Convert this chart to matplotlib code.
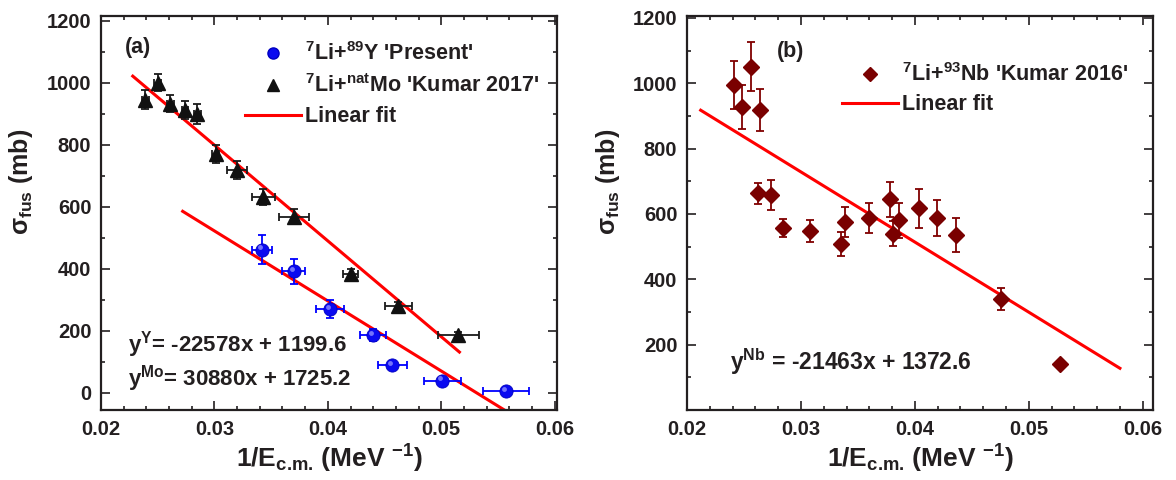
import matplotlib
matplotlib.use('Agg')
import matplotlib.pyplot as plt
import matplotlib.transforms as mtransforms
from matplotlib.ticker import MultipleLocator
import numpy as np

plt.rcParams['font.family'] = ['Liberation Sans', 'DejaVu Sans']
plt.rcParams['font.weight'] = 'bold'
plt.rcParams['mathtext.fontset'] = 'custom'
plt.rcParams['mathtext.rm'] = 'Liberation Sans:bold'
plt.rcParams['mathtext.bf'] = 'Liberation Sans:bold'
plt.rcParams['mathtext.it'] = 'Liberation Sans:bold:italic'
plt.rcParams['mathtext.default'] = 'regular'
plt.rcParams['text.color'] = '#231f20'
plt.rcParams['axes.labelcolor'] = '#231f20'

# panel (a): 7Li+89Y (present)
y_x = [0.0342, 0.0370, 0.0402, 0.0440, 0.0457, 0.0501, 0.0557]
y_sig = [462, 392, 270, 186, 90, 40, 6]
y_xerr = [0.0009, 0.0010, 0.00125, 0.00115, 0.00125, 0.0016, 0.0020]
y_yerr = [47, 40, 30, 20, 10, 8, 5]

# panel (a): 7Li+natMo (Kumar 2017)
mo_x = [0.0239, 0.0250, 0.0261, 0.0274, 0.0285, 0.0301, 0.0320, 0.0343,
        0.0370, 0.0420, 0.0462, 0.0515]
mo_sig = [945, 1000, 932, 912, 898, 770, 718, 631, 568, 385, 280, 188]
mo_xerr = [0.0003, 0.0003, 0.0003, 0.0003, 0.0003, 0.0003, 0.0009, 0.0010,
           0.0013, 0.0007, 0.0012, 0.0018]
mo_yerr = [31, 28, 28, 30, 32, 30, 30, 26, 25, 15, 12, 10]

# panel (b): 7Li+93Nb (Kumar 2016)
nb_x = [0.0241, 0.0248, 0.0256, 0.0264, 0.0262, 0.0274, 0.0284, 0.0308,
        0.0335, 0.0339, 0.0360, 0.0378, 0.0381, 0.0386, 0.0404, 0.0419,
        0.0436, 0.0476, 0.0527]
nb_sig = [994, 928, 1050, 918, 663, 658, 557, 548, 508, 576, 588, 645,
          540, 581, 617, 588, 535, 339, 142]
nb_yerr = [74, 67, 75, 65, 31, 47, 27, 35, 36, 46, 46, 54, 38, 53, 60, 56,
           52, 34, 8]

# linear fits (slope, intercept, x range)
fit_y = (-22578, 1199.6, 0.0272, 0.0558)
fit_mo = (-30880, 1725.2, 0.0228, 0.0516)
fit_nb = (-21463, 1372.6, 0.0212, 0.0580)

x_ticks = [0.02, 0.03, 0.04, 0.05, 0.06]
x_ticklabels = ['0.02', '0.03', '0.04', '0.05', '0.06']
ya_ticks = [0, 200, 400, 600, 800, 1000, 1200]
yb_ticks = [200, 400, 600, 800, 1000, 1200]

fig = plt.figure(figsize=(11.76, 4.8), dpi=100)
ax1 = fig.add_axes([0.0859, 0.1458, 0.3877, 0.8209])
ax2 = fig.add_axes([0.5842, 0.1458, 0.3962, 0.8209])

dark = '#231f20'


def style_axis(ax, ylim, xlim, yticks, ylab_x):
    ax.set_xlim(*xlim)
    ax.set_ylim(*ylim)
    ax.set_xticks(x_ticks)
    ax.set_xticklabels(x_ticklabels)
    ax.set_yticks(yticks)
    ax.xaxis.set_minor_locator(MultipleLocator(0.002))
    ax.yaxis.set_minor_locator(MultipleLocator(100))
    ax.tick_params(which='both', direction='in', top=True, right=True,
                   color=dark, labelcolor=dark, labelsize=14.5)
    ax.tick_params(which='major', length=6.5, width=1.2, pad=7)
    ax.tick_params(which='minor', length=3, width=1.2)
    for s in ax.spines.values():
        s.set_linewidth(1.6)
        s.set_color(dark)
    ax.set_xlabel(r'1/E$_{\text{c.m.}}$ (MeV $^{-1}$)', fontsize=19,
                  fontweight='bold', labelpad=3)
    ax.set_ylabel(r'$\sigma_{fus}$ (mb)', fontsize=18, fontweight='bold')
    ax.yaxis.set_label_coords(ylab_x, 0.58)


def fit_line(ax, fit, label):
    k, b, x0, x1 = fit
    xs = np.array([x0, x1])
    ax.plot(xs, k * xs + b, color='#ff0000', lw=2.2, label=label, zorder=2)


# ---- panel (a)
style_axis(ax1, (-55, 1215), (0.02, 0.0602), ya_ticks, -0.145)
fit_line(ax1, fit_mo, 'Linear fit')
fit_line(ax1, fit_y, None)

ax1.errorbar(mo_x, mo_sig, xerr=mo_xerr, yerr=mo_yerr, fmt='none',
             ecolor='#1a1a1a', elinewidth=1.3, capsize=3, capthick=1.3, zorder=3)
ax1.plot(mo_x, mo_sig, '^', color='#111111', ms=9.5, zorder=4)
ax1.errorbar(y_x, y_sig, xerr=y_xerr, yerr=y_yerr, fmt='none',
             ecolor='#0000ff', elinewidth=1.3, capsize=3, capthick=1.3, zorder=3)
ax1.plot(y_x, y_sig, 'o', color='#0a0af0', mec='#0000c0', mew=0.6, ms=9.5, zorder=4)
# little highlight to give the spheres their shine
shine = mtransforms.offset_copy(ax1.transData, fig=fig, x=-1.6, y=1.6, units='points')
ax1.plot(y_x, y_sig, 'o', color='#8f8fff', ms=3.5, mew=0, alpha=0.8,
         transform=shine, zorder=5)

h_y, = ax1.plot([], [], 'o', color='#0a0af0', mec='#0000c0', ms=8)
h_mo, = ax1.plot([], [], '^', color='#111111', ms=8)
h_fit = ax1.lines[0]
ax1.legend([h_y, h_mo, h_fit],
           [r"$^{7}$Li+$^{89}$Y 'Present'", r"$^{7}$Li+$^{nat}$Mo 'Kumar 2017'",
            'Linear fit'],
           loc='upper left', bbox_to_anchor=(0.315, 0.933), frameon=False,
           prop={'weight': 'bold', 'size': 15.5}, handlelength=2.6,
           handletextpad=0.2, labelspacing=0.42, borderpad=0, borderaxespad=0)

ax1.text(0.053, 0.919, '(a)', transform=ax1.transAxes, fontsize=15.5,
         va='center', ha='left')
ax1.text(0.059, 0.165, r'y$^{Y}$= -22578x + 1199.6', transform=ax1.transAxes,
         fontsize=16, va='center', ha='left')
ax1.text(0.059, 0.081, r'y$^{Mo}$= 30880x + 1725.2', transform=ax1.transAxes,
         fontsize=16, va='center', ha='left')

# ---- panel (b)
style_axis(ax2, (0, 1206), (0.0203, 0.0609), yb_ticks, -0.14)
fit_line(ax2, fit_nb, 'Linear fit')
ax2.errorbar(nb_x, nb_sig, yerr=nb_yerr, fmt='none', ecolor='#800000',
             elinewidth=1.3, capsize=3, capthick=1.3, zorder=3)
ax2.plot(nb_x, nb_sig, 'D', color='#7a0000', ms=8.5, zorder=4)
h_nb, = ax2.plot([], [], 'D', color='#7a0000', ms=7.5)
ax2.legend([h_nb, ax2.lines[0]],
           [r"$^{7}$Li+$^{93}$Nb 'Kumar 2016'", 'Linear fit'],
           loc='upper left', bbox_to_anchor=(0.333, 0.88), frameon=False,
           prop={'weight': 'bold', 'size': 15.5}, handlelength=2.6,
           handletextpad=0.2, labelspacing=0.38, borderpad=0, borderaxespad=0)

ax2.text(0.193, 0.909, '(b)', transform=ax2.transAxes, fontsize=15.5,
         va='center', ha='left')
ax2.text(0.092, 0.122, r'y$^{Nb}$ = -21463x + 1372.6', transform=ax2.transAxes,
         fontsize=16.5, va='center', ha='left')

fig.savefig('out.png', dpi=100)
